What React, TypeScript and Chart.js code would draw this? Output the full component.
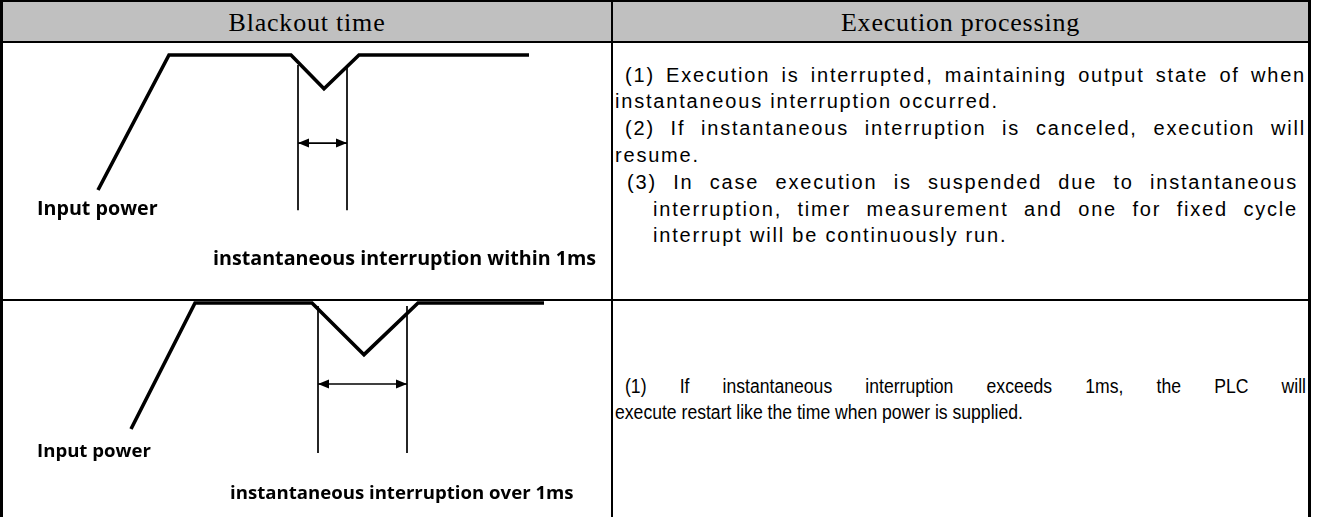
import React, { useEffect, useRef } from "react";
import { Chart, registerables } from "chart.js";

Chart.register(...registerables);

// ---------- text content ----------
const HEADERS = ["Blackout time", "Execution processing"];
const INPUT_LABEL = "Input power";
const CASE_LABELS = [
  "instantaneous interruption within 1ms",
  "instantaneous interruption over 1ms",
];
const EXEC_ROW1_LINES = [
  "(1) Execution is interrupted, maintaining output state of when",
  "instantaneous interruption occurred.",
  "(2) If instantaneous interruption is canceled, execution will",
  "resume.",
  "(3) In case execution is suspended due to instantaneous",
  "interruption, timer measurement and one for fixed cycle",
  "interrupt will be continuously run.",
];
const EXEC_ROW2_LINES = [
  "(1) If instantaneous interruption exceeds 1ms, the PLC will",
  "execute restart like the time when power is supplied.",
];

// ---------- waveform data (time units, power level %) ----------
// case 1: interruption within 1ms
const WAVE1_TIME = [98, 169, 291, 324, 359, 529];
const WAVE1_LEVEL = [0, 100, 100, 75, 100, 100];
const MARK1_TIME = [298, 347];
const MARK1_LEVEL = [92.6, -15];
const ARROW1_LEVEL = 34.8;

// case 2: interruption over 1ms
const WAVE2_TIME = [131, 195, 312, 364, 418, 544];
const WAVE2_LEVEL = [0, 100, 100, 59, 100, 100];
const MARK2_TIME = [318, 407];
const MARK2_LEVEL = [97.6, -19.0];
const ARROW2_LEVEL = 35.7;

const arrowPlugin = {
  id: "arrowHeads",
  afterDatasetsDraw(chart: any) {
    const ctx = chart.ctx;
    chart.data.datasets.forEach((ds: any, i: number) => {
      if (ds.label !== "arrow") return;
      const pts = chart.getDatasetMeta(i).data;
      if (pts.length < 2) return;
      const a = pts[0];
      const b = pts[pts.length - 1];
      const L = 11;
      const W = 4.5;
      ctx.save();
      ctx.fillStyle = "#000";
      ctx.beginPath();
      ctx.moveTo(a.x, a.y);
      ctx.lineTo(a.x + L, a.y - W);
      ctx.lineTo(a.x + L, a.y + W);
      ctx.closePath();
      ctx.fill();
      ctx.beginPath();
      ctx.moveTo(b.x, b.y);
      ctx.lineTo(b.x - L, b.y - W);
      ctx.lineTo(b.x - L, b.y + W);
      ctx.closePath();
      ctx.fill();
      ctx.restore();
    });
  },
};

type DiagramProps = {
  time: number[];
  level: number[];
  markTime: number[];
  markLevel: number[];
  arrowLevel: number;
  yMin: number;
  yMax: number;
  top: number;
  height: number;
};

function Diagram(p: DiagramProps) {
  const ref = useRef<HTMLCanvasElement>(null);
  useEffect(() => {
    if (!ref.current) return;
    const line = (data: { x: number; y: number }[], w: number, label = "") => ({
      label,
      data,
      showLine: true,
      borderColor: "#000",
      backgroundColor: "#000",
      borderWidth: w,
      pointRadius: 0,
      borderJoinStyle: "miter" as const,
      borderCapStyle: "butt" as const,
      tension: 0,
      clip: false as const,
    });
    const chart = new Chart(ref.current, {
      type: "scatter",
      data: {
        datasets: [
          line(p.time.map((x, i) => ({ x, y: p.level[i] })), 3.6, "wave"),
          ...p.markTime.map((x) =>
            line(p.markLevel.map((y) => ({ x, y })), 1.7, "mark")
          ),
          line(p.markTime.map((x) => ({ x, y: p.arrowLevel })), 1.7, "arrow"),
        ],
      },
      options: {
        animation: false,
        responsive: false,
        maintainAspectRatio: false,
        events: [],
        layout: { padding: 0 },
        plugins: { legend: { display: false }, tooltip: { enabled: false } },
        scales: {
          x: { type: "linear", display: false, min: 0, max: 610 },
          y: { type: "linear", display: false, min: p.yMin, max: p.yMax },
        },
      },
      plugins: [arrowPlugin],
    });
    return () => chart.destroy();
  }, []);
  return (
    <canvas
      ref={ref}
      width={610}
      height={p.height}
      style={{ position: "absolute", left: 0, top: p.top, width: 610, height: p.height }}
    />
  );
}

const abs = (s: React.CSSProperties): React.CSSProperties => ({ position: "absolute", ...s });

export default function App() {
  const bodyFont = '"Liberation Sans", Arial, sans-serif';
  const labelStyle: React.CSSProperties = {
    fontFamily: '"Open Sans", sans-serif',
    fontWeight: 700,
    fontSize: 19.7,
    lineHeight: "24px",
    whiteSpace: "nowrap",
    color: "#000",
  };
  const label2Style: React.CSSProperties = { ...labelStyle, fontSize: 18.6 };
  const row1Styles: React.CSSProperties[] = [
    { paddingLeft: 10, textAlignLast: "justify" },
    {},
    { paddingLeft: 10, textAlignLast: "justify" },
    {},
    { paddingLeft: 12, paddingRight: 8, textAlignLast: "justify" },
    { paddingLeft: 38, paddingRight: 8, textAlignLast: "justify" },
    { paddingLeft: 38 },
  ];
  const row2Squeeze = 0.88;
  const row2Styles: React.CSSProperties[] = [
    { paddingLeft: 10 / row2Squeeze, textAlignLast: "justify" },
    {},
  ];
  return (
    <div
      style={{
        position: "fixed",
        left: 0,
        top: 0,
        width: 1324,
        height: 517,
        background: "#fff",
        overflow: "hidden",
      }}
    >
      {/* header background */}
      <div style={abs({ left: 3, top: 2, width: 1305, height: 39, background: "#c0c0c0" })} />

      {/* diagrams */}
      <Diagram
        time={WAVE1_TIME}
        level={WAVE1_LEVEL}
        markTime={MARK1_TIME}
        markLevel={MARK1_LEVEL}
        arrowLevel={ARROW1_LEVEL}
        yMin={-80}
        yMax={108.9}
        top={43}
        height={255}
      />
      <Diagram
        time={WAVE2_TIME}
        level={WAVE2_LEVEL}
        markTime={MARK2_TIME}
        markLevel={MARK2_LEVEL}
        arrowLevel={ARROW2_LEVEL}
        yMin={-69.84}
        yMax={102.38}
        top={300}
        height={217}
      />

      {/* grid lines */}
      <div style={abs({ left: 0, top: 0, width: 1311, height: 2, background: "#000" })} />
      <div style={abs({ left: 0, top: 0, width: 3, height: 517, background: "#000" })} />
      <div style={abs({ left: 1308, top: 0, width: 3, height: 517, background: "#000" })} />
      <div style={abs({ left: 0, top: 41, width: 1311, height: 2, background: "#000" })} />
      <div style={abs({ left: 611, top: 0, width: 2, height: 517, background: "#000" })} />
      <div style={abs({ left: 0, top: 299, width: 1311, height: 2, background: "#000" })} />

      {/* headers */}
      {HEADERS.map((h, i) => (
        <div
          key={h}
          style={abs({
            left: i === 0 ? 3 : 613,
            width: i === 0 ? 608 : 695,
            top: 2,
            height: 39,
            paddingTop: 3,
            boxSizing: "border-box",
            lineHeight: "36px",
            textAlign: "center",
            fontFamily: '"Liberation Serif", "Times New Roman", serif',
            fontSize: 26,
            letterSpacing: 0.8,
            color: "#000",
            whiteSpace: "nowrap",
          })}
        >
          {h}
        </div>
      ))}

      {/* diagram labels */}
      <div style={abs({ ...labelStyle, left: 37, top: 196 })}>{INPUT_LABEL}</div>
      <div style={abs({ ...labelStyle, left: 213, top: 246 })}>{CASE_LABELS[0]}</div>
      <div style={abs({ ...label2Style, left: 37, top: 438 })}>{INPUT_LABEL}</div>
      <div style={abs({ ...label2Style, left: 230, top: 480 })}>{CASE_LABELS[1]}</div>

      {/* execution processing text */}
      <div
        style={abs({
          left: 615,
          top: 61.6,
          width: 691,
          fontFamily: bodyFont,
          fontSize: 20,
          lineHeight: "26.8px",
          letterSpacing: 1.8,
          color: "#000",
        })}
      >
        {EXEC_ROW1_LINES.map((t, i) => (
          <div key={i} style={{ whiteSpace: "nowrap", textAlign: "justify", ...row1Styles[i] }}>
            {t}
          </div>
        ))}
      </div>
      <div
        style={abs({
          left: 615,
          top: 372.5,
          width: 691 / row2Squeeze,
          transform: `scaleX(${row2Squeeze})`,
          transformOrigin: "left top",
          fontFamily: bodyFont,
          fontSize: 20,
          lineHeight: "26.8px",
          letterSpacing: 0,
          color: "#000",
        })}
      >
        {EXEC_ROW2_LINES.map((t, i) => (
          <div key={i} style={{ whiteSpace: "nowrap", textAlign: "justify", ...row2Styles[i] }}>
            {t}
          </div>
        ))}
      </div>
    </div>
  );
}
